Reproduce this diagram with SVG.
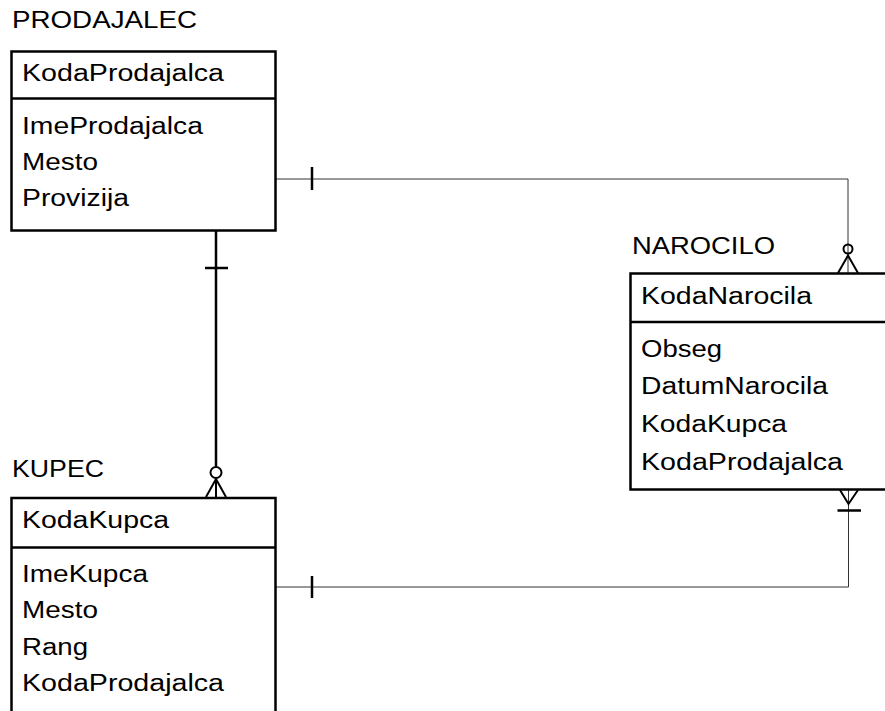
<svg xmlns="http://www.w3.org/2000/svg" width="885" height="711" viewBox="0 0 885 711">
  <style>
    text { font-family: "Liberation Sans", Arial, sans-serif; font-size: 23px; fill: #000; }
    .box { fill: #fff; stroke: #000; stroke-width: 2.5; }
    .div { stroke: #000; stroke-width: 2.5; }
    .thin { fill: none; stroke: #333; stroke-width: 1; }
    .thick { fill: none; stroke: #000; stroke-width: 2.5; }
    .mk { fill: none; stroke: #000; stroke-width: 2; }
  </style>
  <rect width="885" height="711" fill="#fff"/>

  <g id="connectors">
    <!-- PRODAJALEC - NAROCILO -->
    <polyline class="thin" points="276,179 848,179 848,273"/>
    <line class="thick" x1="312" y1="167" x2="312" y2="190"/>
    <circle class="mk" cx="848" cy="249" r="4.5"/>
    <polyline class="mk" points="838,273 848,255.5 858,273"/>
    <!-- PRODAJALEC - KUPEC -->
    <line class="thick" x1="216" y1="231" x2="216" y2="466.5"/>
    <line class="thick" x1="205" y1="268" x2="228" y2="268"/>
    <circle class="mk" cx="216" cy="472.5" r="5.5"/>
    <polyline class="mk" points="206,497 216,479 226,497"/>
    <line class="mk" x1="216" y1="478" x2="216" y2="497"/>
    <!-- KUPEC - NAROCILO -->
    <polyline class="thin" points="276,587 848.5,587 848.5,490"/>
    <line class="thick" x1="312" y1="576" x2="312" y2="598"/>
    <polyline class="mk" points="840,490 848.5,504 858,490"/>
    <line class="thick" x1="837.5" y1="510.5" x2="861" y2="510.5"/>
  </g>

  <g id="prodajalec">
    <text x="12" y="28" textLength="185" lengthAdjust="spacingAndGlyphs">PRODAJALEC</text>
    <rect class="box" x="11.5" y="51.5" width="264" height="179"/>
    <line class="div" x1="11.5" y1="98.5" x2="275.5" y2="98.5"/>
    <text x="22" y="81" textLength="202" lengthAdjust="spacingAndGlyphs">KodaProdajalca</text>
    <text x="22" y="134" textLength="181" lengthAdjust="spacingAndGlyphs">ImeProdajalca</text>
    <text x="22" y="170" textLength="76" lengthAdjust="spacingAndGlyphs">Mesto</text>
    <text x="22" y="206" textLength="107" lengthAdjust="spacingAndGlyphs">Provizija</text>
  </g>

  <g id="narocilo">
    <text x="632" y="254" textLength="143" lengthAdjust="spacingAndGlyphs">NAROCILO</text>
    <rect class="box" x="630.5" y="273.5" width="270" height="216"/>
    <line class="div" x1="630.5" y1="322" x2="900" y2="322"/>
    <text x="641" y="304" textLength="171" lengthAdjust="spacingAndGlyphs">KodaNarocila</text>
    <text x="641" y="357" textLength="81" lengthAdjust="spacingAndGlyphs">Obseg</text>
    <text x="641" y="394" textLength="187" lengthAdjust="spacingAndGlyphs">DatumNarocila</text>
    <text x="641" y="432" textLength="146" lengthAdjust="spacingAndGlyphs">KodaKupca</text>
    <text x="641" y="470" textLength="202" lengthAdjust="spacingAndGlyphs">KodaProdajalca</text>
  </g>

  <g id="kupec">
    <text x="12" y="477" textLength="92" lengthAdjust="spacingAndGlyphs">KUPEC</text>
    <rect class="box" x="11.5" y="498" width="264" height="240"/>
    <line class="div" x1="11.5" y1="547.5" x2="275.5" y2="547.5"/>
    <text x="22" y="528" textLength="147" lengthAdjust="spacingAndGlyphs">KodaKupca</text>
    <text x="22" y="582" textLength="126" lengthAdjust="spacingAndGlyphs">ImeKupca</text>
    <text x="22" y="618" textLength="76" lengthAdjust="spacingAndGlyphs">Mesto</text>
    <text x="22" y="655" textLength="66" lengthAdjust="spacingAndGlyphs">Rang</text>
    <text x="22" y="691" textLength="202" lengthAdjust="spacingAndGlyphs">KodaProdajalca</text>
  </g>
</svg>
